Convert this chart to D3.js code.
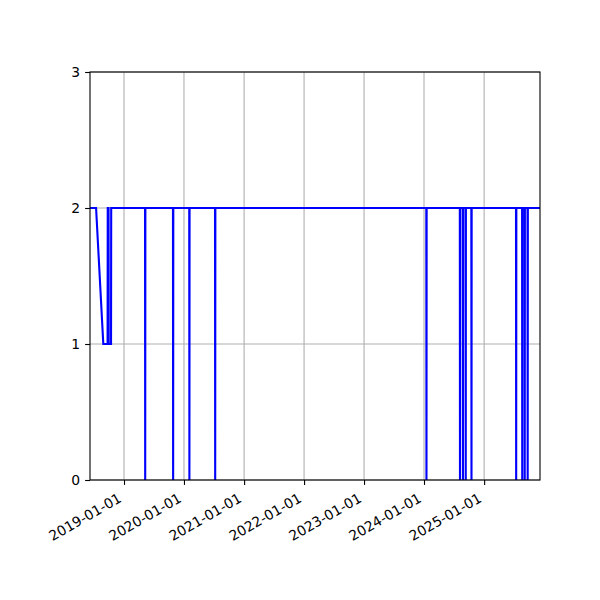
<!DOCTYPE html>
<html>
  <head>
    <meta charset="utf-8" />
    <script src="https://d3js.org/d3.v7.min.js"></script>
    <style>
      body { margin: 0; background: #fff; }
      text { font-family: "DejaVu Sans", sans-serif; font-size: 13.9px; fill: #000; }
      .grid line { stroke: #b0b0b0; stroke-width: 1.1px; }
    </style>
  </head>
  <body>
    <svg id="chart" width="600" height="600"></svg>
    <script>
      // change points of the series
      var dates = [
        "2018-06-08", "2018-07-15", "2018-08-28", "2018-09-23", "2018-09-24",
        "2018-09-29", "2018-09-30", "2018-10-14", "2018-10-15",
        "2019-05-09", "2019-05-10", "2019-05-11",
        "2019-10-26", "2019-10-27", "2019-10-28",
        "2020-02-02", "2020-02-03", "2020-02-04",
        "2020-07-08", "2020-07-09", "2020-07-10",
        "2024-01-15", "2024-01-16", "2024-01-17",
        "2024-08-06", "2024-08-07", "2024-08-08",
        "2024-08-24", "2024-08-25", "2024-08-26",
        "2024-09-10", "2024-09-11", "2024-09-12",
        "2024-10-15", "2024-10-16", "2024-10-17",
        "2025-07-14", "2025-07-15", "2025-07-16",
        "2025-08-20", "2025-08-21", "2025-08-22",
        "2025-09-04", "2025-09-05", "2025-09-06",
        "2025-09-22", "2025-09-23", "2025-09-24",
        "2025-12-07"
      ];
      var values = [
        2, 2, 1, 1, 2,
        2, 1, 1, 2,
        2, 0, 2,
        2, 0, 2,
        2, 0, 2,
        2, 0, 2,
        2, 0, 2,
        2, 0, 2,
        2, 0, 2,
        2, 0, 2,
        2, 0, 2,
        2, 0, 2,
        2, 0, 2,
        2, 0, 2,
        2, 0, 2,
        2
      ];
      var yTicks = [0, 1, 2, 3];
      var xTickDates = ["2019-01-01", "2020-01-01", "2021-01-01", "2022-01-01",
                        "2023-01-01", "2024-01-01", "2025-01-01"];

      var parse = d3.utcParse("%Y-%m-%d");
      var data = dates.map(function(d, i) { return { date: parse(d), value: values[i] }; });

      var mLeft = 90, mRight = 540, mTop = 72, mBottom = 480;
      var svg = d3.select("#chart");

      var x = d3.scaleUtc()
        .domain(d3.extent(data, function(d) { return d.date; }))
        .range([mLeft, mRight]);
      var y = d3.scaleLinear().domain([0, 3]).range([mBottom, mTop]);

      var xTicks = xTickDates.map(parse);

      // grid
      var grid = svg.append("g").attr("class", "grid");
      grid.selectAll(".gx").data(xTicks).enter().append("line")
        .attr("x1", function(d) { return x(d); }).attr("x2", function(d) { return x(d); })
        .attr("y1", mTop).attr("y2", mBottom);
      grid.selectAll(".gy").data(yTicks).enter().append("line")
        .attr("x1", mLeft).attr("x2", mRight)
        .attr("y1", function(d) { return y(d); }).attr("y2", function(d) { return y(d); });

      // line
      var line = d3.line()
        .x(function(d) { return x(d.date); })
        .y(function(d) { return y(d.value); });
      svg.append("path")
        .datum(data)
        .attr("fill", "none")
        .attr("stroke", "#0000ff")
        .attr("stroke-width", 2.1)
        .attr("d", line);

      // axes
      var xAxis = svg.append("g")
        .attr("transform", "translate(0," + mBottom + ")")
        .call(d3.axisBottom(x).tickValues(xTicks).tickSizeOuter(0).tickSize(4.9).tickPadding(4.9)
          .tickFormat(d3.utcFormat("%Y-%m-%d")));
      xAxis.select(".domain").remove();
      xAxis.selectAll(".tick line").attr("stroke", "#000").attr("stroke-width", 1.1);
      xAxis.selectAll(".tick text")
        .attr("text-anchor", "end")
        .attr("y", 0).attr("dy", 0)
        .attr("transform", "translate(-2,21) rotate(-30)")
        .style("font-size", "13.9px");

      var yAxis = svg.append("g")
        .attr("transform", "translate(" + mLeft + ",0)")
        .call(d3.axisLeft(y).tickValues(yTicks).tickSize(4.9).tickPadding(4.9).tickFormat(d3.format("d")));
      yAxis.select(".domain").remove();
      yAxis.selectAll(".tick line").attr("stroke", "#000").attr("stroke-width", 1.1);
      yAxis.selectAll(".tick text").style("font-size", "13.9px");

      // frame
      svg.append("rect")
        .attr("x", mLeft).attr("y", mTop)
        .attr("width", mRight - mLeft).attr("height", mBottom - mTop)
        .attr("fill", "none").attr("stroke", "#000").attr("stroke-width", 1.1);
    </script>
  </body>
</html>
